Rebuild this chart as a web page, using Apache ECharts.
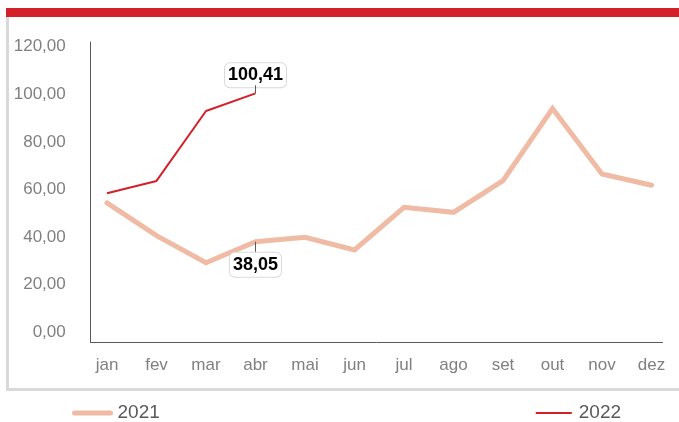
<!DOCTYPE html>
<html>
<head>
<meta charset="utf-8">
<script src="https://cdn.jsdelivr.net/npm/echarts@6/dist/echarts.min.js"></script>
<style>
html,body{margin:0;padding:0;background:#fff;}
#chart{width:679px;height:422px;}
</style>
</head>
<body>
<div id="chart"></div>
<script>
var months = ['jan','fev','mar','abr','mai','jun','jul','ago','set','out','nov','dez'];
var values2021 = [54.4, 40.6, 29.2, 38.05, 39.9, 34.6, 52.5, 50.4, 63.7, 94.0, 66.5, 61.8];
var values2022 = [58.4, 63.6, 93.0, 100.41];
var labeled2021 = [3];
var labeled2022 = [3];
var yTicks = {min: 0, max: 120, interval: 20};

var FONT = "'Liberation Sans', Arial, sans-serif";
var C2021 = '#f0bba4';
var C2022 = '#d42029';

function fmt(v){ return v.toFixed(2).replace('.', ','); }

function buildData(vals, labeled){
  return vals.map(function(v, i){
    if (labeled.indexOf(i) >= 0) {
      return {value: v, label: {show: true}};
    }
    return v;
  });
}

var boxStyle = {
  fontFamily: FONT,
  fontWeight: 'bold',
  fontSize: 18,
  lineHeight: 20,
  color: '#000',
  backgroundColor: '#fff',
  borderColor: '#d9d9d9',
  borderWidth: 1,
  borderRadius: 5,
  padding: [3, 3, 3, 3]
};

function labelStyle(pos, stemH){
  return {
    show: false,
    position: pos,
    distance: 0,
    align: 'center',
    formatter: function(p){
      return pos === 'top'
        ? '{box|' + fmt(p.value) + '}\n{stem|}'
        : '{stem|}\n{box|' + fmt(p.value) + '}';
    },
    rich: {
      box: boxStyle,
      stem: {width: 1, height: stemH, lineHeight: stemH, backgroundColor: '#595959', padding: 0}
    }
  };
}

var chart = echarts.init(document.getElementById('chart'), null, {renderer: 'canvas'});
chart.setOption({
  animation: false,
  backgroundColor: '#fff',
  graphic: [
    {type: 'rect', shape: {x: 6, y: 8, width: 673, height: 9}, style: {fill: '#d42029'}},
    {type: 'rect', shape: {x: 6, y: 17, width: 3, height: 373}, style: {fill: '#d9d9d9'}},
    {type: 'rect', shape: {x: 6, y: 388, width: 673, height: 3}, style: {fill: '#d9d9d9'}}
  ],
  grid: [
    {left: 82.25, width: 594, top: 46.7, height: 285.6},
    {left: 90.5, right: 16.5, top: 42, bottom: 79.5}
  ],
  xAxis: [
    {type: 'category', gridIndex: 0, data: months, boundaryGap: true,
     axisLine: {show: false}, axisTick: {show: false}, splitLine: {show: false},
     axisLabel: {margin: 25, color: '#808080', fontSize: 17, fontFamily: FONT}},
    {type: 'value', gridIndex: 1, min: 0, max: 1,
     axisLine: {show: true, lineStyle: {color: '#595959', width: 1}},
     axisTick: {show: false}, axisLabel: {show: false}, splitLine: {show: false}}
  ],
  yAxis: [
    {type: 'value', gridIndex: 0, min: yTicks.min, max: yTicks.max, interval: yTicks.interval,
     axisLine: {show: false}, axisTick: {show: false}, splitLine: {show: false},
     axisLabel: {margin: 16.5, color: '#808080', fontSize: 17, fontFamily: FONT,
       formatter: function(v){ return fmt(v); }}},
    {type: 'value', gridIndex: 1, min: 0, max: 1,
     axisLine: {show: true, lineStyle: {color: '#595959', width: 1}},
     axisTick: {show: false}, axisLabel: {show: false}, splitLine: {show: false}}
  ],
  legend: {
    data: [
      {name: '2021', lineStyle: {width: 5, color: C2021, cap: 'round'}},
      {name: '2022', lineStyle: {width: 2, color: C2022}}
    ],
    left: 72, top: 403.5, padding: 0,
    itemWidth: 36, itemHeight: 14, itemGap: 375,
    textStyle: {fontFamily: FONT, fontSize: 19, color: '#595959', padding: [0, 0, 0, 2]},
    itemStyle: {opacity: 0}
  },
  series: [
    {name: '2021', type: 'line', xAxisIndex: 0, yAxisIndex: 0,
     data: buildData(values2021, labeled2021),
     symbol: 'circle', symbolSize: 0, showSymbol: true, color: C2021,
     lineStyle: {width: 5, color: C2021, cap: 'round', join: 'miter'},
     label: labelStyle('bottom', 13)},
    {name: '2022', type: 'line', xAxisIndex: 0, yAxisIndex: 0,
     data: buildData(values2022, labeled2022),
     symbol: 'circle', symbolSize: 0, showSymbol: true, color: C2022, z: 3,
     lineStyle: {width: 2, color: C2022},
     label: labelStyle('top', 8)}
  ]
});
</script>
</body>
</html>
